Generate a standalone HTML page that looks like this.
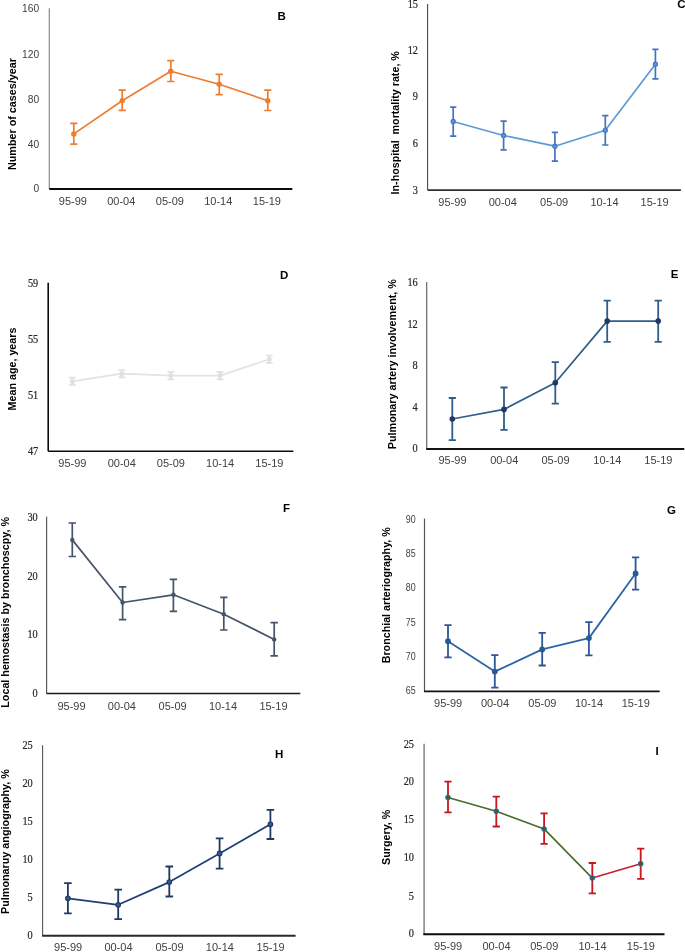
<!DOCTYPE html>
<html><head><meta charset="utf-8"><style>
html,body{margin:0;padding:0;background:#fff;}
body{width:685px;height:952px;overflow:hidden;}
svg{display:block;will-change:transform;}
.tk{font-family:"Liberation Sans", sans-serif;font-size:11.4px;fill:#404040;text-anchor:end;}
.ts{font-family:"Liberation Serif", serif;font-size:12px;fill:#262626;stroke:#262626;stroke-width:0.2px;text-anchor:end;}
.tn{font-family:"Liberation Sans", sans-serif;font-size:10.6px;fill:#404040;text-anchor:end;}
.xl{font-family:"Liberation Sans", sans-serif;font-size:11px;fill:#404040;text-anchor:middle;}
.lt{font-family:"Liberation Sans", sans-serif;font-size:11.5px;font-weight:bold;fill:#000;}
.yl{font-family:"Liberation Sans", sans-serif;font-size:11.6px;font-weight:bold;fill:#000;text-anchor:middle;}
</style></head><body>
<svg width="685" height="952" viewBox="0 0 685 952">
<rect width="685" height="952" fill="#fff"/>
<g id="pB"><line x1="49.3" y1="8.3" x2="49.3" y2="189" stroke="#8c8c8c" stroke-width="1.2"/><line x1="49.3" y1="189" x2="292.3" y2="189" stroke="#0a0a0a" stroke-width="1.9"/><text transform="translate(39.2 12) scale(0.9 1)" class="tk">160</text><text transform="translate(39.2 57.5) scale(0.9 1)" class="tk">120</text><text transform="translate(39.2 102.6) scale(0.9 1)" class="tk">80</text><text transform="translate(39.2 147.6) scale(0.9 1)" class="tk">40</text><text transform="translate(39.2 192.4) scale(0.9 1)" class="tk">0</text><text x="72.9" y="205.4" class="xl">95-99</text><text x="121.3" y="205.4" class="xl">00-04</text><text x="169.9" y="205.4" class="xl">05-09</text><text x="218.3" y="205.4" class="xl">10-14</text><text x="266.9" y="205.4" class="xl">15-19</text><polyline points="73.8,133.9 122.2,100.7 170.8,71.2 219.2,84.3 267.8,100.7" fill="none" stroke="#ED7D31" stroke-width="1.7" stroke-linejoin="round"/><path d="M73.8 123.4V144.2M70.2 123.4H77.4M70.2 144.2H77.4M122.2 90.2V110.3M118.6 90.2H125.8M118.6 110.3H125.8M170.8 60.7V81.5M167.2 60.7H174.4M167.2 81.5H174.4M219.2 74.4V94.6M215.6 74.4H222.8M215.6 94.6H222.8M267.8 90.2V110.5M264.2 90.2H271.4M264.2 110.5H271.4" fill="none" stroke="#ED7D31" stroke-width="1.7"/><circle cx="73.8" cy="133.9" r="2.7" fill="#ED7D31"/><circle cx="122.2" cy="100.7" r="2.7" fill="#ED7D31"/><circle cx="170.8" cy="71.2" r="2.7" fill="#ED7D31"/><circle cx="219.2" cy="84.3" r="2.7" fill="#ED7D31"/><circle cx="267.8" cy="100.7" r="2.7" fill="#ED7D31"/><text x="277.4" y="20.4" class="lt">B</text><text transform="translate(15.8 114) rotate(-90)" class="yl" textLength="112" lengthAdjust="spacingAndGlyphs" xml:space="preserve">Number of cases/year</text></g>
<g id="pC"><line x1="427.6" y1="4" x2="427.6" y2="190.1" stroke="#4a4a4a" stroke-width="1.1"/><line x1="427.6" y1="190.1" x2="680.9" y2="190.1" stroke="#303030" stroke-width="1.8"/><text transform="translate(418 7.9) scale(0.86 1)" class="ts">15</text><text transform="translate(418 53.9) scale(0.86 1)" class="ts">12</text><text transform="translate(418 100.2) scale(0.86 1)" class="ts">9</text><text transform="translate(418 147.1) scale(0.86 1)" class="ts">6</text><text transform="translate(418 193.5) scale(0.86 1)" class="ts">3</text><text x="452.4" y="206.1" class="xl">95-99</text><text x="502.8" y="206.1" class="xl">00-04</text><text x="554.1" y="206.1" class="xl">05-09</text><text x="604.5" y="206.1" class="xl">10-14</text><text x="654.6" y="206.1" class="xl">15-19</text><polyline points="453.2,121.5 503.6,135.5 554.9,146.2 605.3,130.3 655.4,64.2" fill="none" stroke="#5B9BD5" stroke-width="1.7" stroke-linejoin="round"/><path d="M453.2 107.2V136.1M450.1 107.2H456.3M450.1 136.1H456.3M503.6 121.2V149.9M500.5 121.2H506.7M500.5 149.9H506.7M554.9 132.3V161.2M551.8 132.3H558M551.8 161.2H558M605.3 115.7V145M602.2 115.7H608.4M602.2 145H608.4M655.4 49.3V78.8M652.3 49.3H658.5M652.3 78.8H658.5" fill="none" stroke="#4472C4" stroke-width="1.7"/><circle cx="453.2" cy="121.5" r="2.1" fill="#5B9BD5" stroke="#4472C4" stroke-width="1.1"/><circle cx="503.6" cy="135.5" r="2.1" fill="#5B9BD5" stroke="#4472C4" stroke-width="1.1"/><circle cx="554.9" cy="146.2" r="2.1" fill="#5B9BD5" stroke="#4472C4" stroke-width="1.1"/><circle cx="605.3" cy="130.3" r="2.1" fill="#5B9BD5" stroke="#4472C4" stroke-width="1.1"/><circle cx="655.4" cy="64.2" r="2.1" fill="#5B9BD5" stroke="#4472C4" stroke-width="1.1"/><text x="677.3" y="8.1" class="lt">C</text><text transform="translate(398.7 122.8) rotate(-90)" class="yl" textLength="143.3" lengthAdjust="spacingAndGlyphs" xml:space="preserve">In-hospital  mortality rate, %</text></g>
<g id="pD"><line x1="48.2" y1="282.7" x2="48.2" y2="451.2" stroke="#0d0d0d" stroke-width="1.6"/><line x1="48.2" y1="451.2" x2="293.4" y2="451.2" stroke="#0d0d0d" stroke-width="1.6"/><text transform="translate(38.2 286.7) scale(0.86 1)" class="ts">59</text><text transform="translate(38.2 342.7) scale(0.86 1)" class="ts">55</text><text transform="translate(38.2 398.8) scale(0.86 1)" class="ts">51</text><text transform="translate(38.2 454.8) scale(0.86 1)" class="ts">47</text><text x="72.4" y="467.1" class="xl">95-99</text><text x="121.8" y="467.1" class="xl">00-04</text><text x="170.9" y="467.1" class="xl">05-09</text><text x="220.1" y="467.1" class="xl">10-14</text><text x="269.4" y="467.1" class="xl">15-19</text><polyline points="72.3,381.4 121.7,373.7 170.8,375.6 220,375.6 269.3,359.2" fill="none" stroke="#E3E3E3" stroke-width="1.7" stroke-linejoin="round"/><path d="M72.3 377.7V384.9M69 377.7H75.6M69 384.9H75.6M121.7 370V377.4M118.4 370H125M118.4 377.4H125M170.8 371.9V379.3M167.5 371.9H174.1M167.5 379.3H174.1M220 371.9V379.3M216.7 371.9H223.3M216.7 379.3H223.3M269.3 355.5V362.9M266 355.5H272.6M266 362.9H272.6" fill="none" stroke="#E0E0E0" stroke-width="1.7"/><circle cx="72.3" cy="381.4" r="2.5" fill="#E0E0E0"/><circle cx="121.7" cy="373.7" r="2.5" fill="#E0E0E0"/><circle cx="170.8" cy="375.6" r="2.5" fill="#E0E0E0"/><circle cx="220" cy="375.6" r="2.5" fill="#E0E0E0"/><circle cx="269.3" cy="359.2" r="2.5" fill="#E0E0E0"/><text x="279.9" y="278.6" class="lt">D</text><text transform="translate(16.3 369) rotate(-90)" class="yl" textLength="82.8" lengthAdjust="spacingAndGlyphs" xml:space="preserve">Mean age, years</text></g>
<g id="pE"><line x1="426.7" y1="282" x2="426.7" y2="449" stroke="#666" stroke-width="1.2"/><line x1="426.2" y1="449" x2="684.3" y2="449" stroke="#141414" stroke-width="1.9"/><text transform="translate(417.7 286.1) scale(0.86 1)" class="ts">16</text><text transform="translate(417.7 327.8) scale(0.86 1)" class="ts">12</text><text transform="translate(417.7 369.3) scale(0.86 1)" class="ts">8</text><text transform="translate(417.7 410.8) scale(0.86 1)" class="ts">4</text><text transform="translate(417.7 452.1) scale(0.86 1)" class="ts">0</text><text x="452.5" y="463.7" class="xl">95-99</text><text x="504.2" y="463.7" class="xl">00-04</text><text x="555.5" y="463.7" class="xl">05-09</text><text x="607.4" y="463.7" class="xl">10-14</text><text x="658.4" y="463.7" class="xl">15-19</text><polyline points="452.3,419 504,409.4 555.3,382.8 607.2,321.1 658.2,321.1" fill="none" stroke="#2F5D8C" stroke-width="1.7" stroke-linejoin="round"/><path d="M452.3 398V440.1M448.7 398H455.9M448.7 440.1H455.9M504 387.5V429.8M500.4 387.5H507.6M500.4 429.8H507.6M555.3 362.2V403.7M551.7 362.2H558.9M551.7 403.7H558.9M607.2 300.6V341.8M603.6 300.6H610.8M603.6 341.8H610.8M658.2 300.6V341.8M654.6 300.6H661.8M654.6 341.8H661.8" fill="none" stroke="#2F5D8C" stroke-width="1.8"/><circle cx="452.3" cy="419" r="2.8" fill="#1F3864"/><circle cx="504" cy="409.4" r="2.8" fill="#1F3864"/><circle cx="555.3" cy="382.8" r="2.8" fill="#1F3864"/><circle cx="607.2" cy="321.1" r="2.8" fill="#1F3864"/><circle cx="658.2" cy="321.1" r="2.8" fill="#1F3864"/><text x="670.7" y="278.2" class="lt">E</text><text transform="translate(396.3 364.15) rotate(-90)" class="yl" textLength="170.1" lengthAdjust="spacingAndGlyphs" xml:space="preserve">Pulmonary artery involvement, %</text></g>
<g id="pF"><line x1="46.6" y1="516.8" x2="46.6" y2="693.5" stroke="#5a5a5a" stroke-width="1.2"/><line x1="46.4" y1="693.5" x2="300.3" y2="693.5" stroke="#1a1a1a" stroke-width="1.6"/><text transform="translate(37.7 520.8) scale(0.86 1)" class="ts">30</text><text transform="translate(37.7 579.7) scale(0.86 1)" class="ts">20</text><text transform="translate(37.7 637.7) scale(0.86 1)" class="ts">10</text><text transform="translate(37.7 696.7) scale(0.86 1)" class="ts">0</text><text x="71.55" y="709.6" class="xl">95-99</text><text x="121.85" y="709.6" class="xl">00-04</text><text x="172.65" y="709.6" class="xl">05-09</text><text x="223.05" y="709.6" class="xl">10-14</text><text x="273.45" y="709.6" class="xl">15-19</text><polyline points="72.3,539.9 122.6,602.5 173.4,594.8 223.8,614.2 274.2,639.4" fill="none" stroke="#44546A" stroke-width="1.7" stroke-linejoin="round"/><path d="M72.3 523V556.5M68.6 523H76M68.6 556.5H76M122.6 586.9V619.7M118.9 586.9H126.3M118.9 619.7H126.3M173.4 579.3V611.4M169.7 579.3H177.1M169.7 611.4H177.1M223.8 597.4V630M220.1 597.4H227.5M220.1 630H227.5M274.2 622.6V655.8M270.5 622.6H277.9M270.5 655.8H277.9" fill="none" stroke="#44546A" stroke-width="1.7"/><circle cx="72.3" cy="539.9" r="2.2" fill="#44546A"/><circle cx="122.6" cy="602.5" r="2.2" fill="#44546A"/><circle cx="173.4" cy="594.8" r="2.2" fill="#44546A"/><circle cx="223.8" cy="614.2" r="2.2" fill="#44546A"/><circle cx="274.2" cy="639.4" r="2.2" fill="#44546A"/><text x="283" y="512" class="lt">F</text><text transform="translate(9 612.35) rotate(-90)" class="yl" textLength="190.7" lengthAdjust="spacingAndGlyphs" xml:space="preserve">Local hemostasis by bronchoscpy, %</text></g>
<g id="pG"><line x1="424.5" y1="518.6" x2="424.5" y2="691.4" stroke="#555" stroke-width="1.2"/><line x1="424" y1="691.4" x2="659.7" y2="691.4" stroke="#141414" stroke-width="1.8"/><text transform="translate(415.7 522.8) scale(0.84 1)" class="tn">90</text><text transform="translate(415.7 556.8) scale(0.84 1)" class="tn">85</text><text transform="translate(415.7 591.4) scale(0.84 1)" class="tn">80</text><text transform="translate(415.7 625.8) scale(0.84 1)" class="tn">75</text><text transform="translate(415.7 660.1) scale(0.84 1)" class="tn">70</text><text transform="translate(415.7 694.3) scale(0.84 1)" class="tn">65</text><text x="448.15" y="706.7" class="xl">95-99</text><text x="494.95" y="706.7" class="xl">00-04</text><text x="542.35" y="706.7" class="xl">05-09</text><text x="589.05" y="706.7" class="xl">10-14</text><text x="635.75" y="706.7" class="xl">15-19</text><polyline points="448,641.2 494.8,671.6 542.2,649.4 588.9,638.1 635.6,573.5" fill="none" stroke="#2E65A6" stroke-width="1.8" stroke-linejoin="round"/><path d="M448 625.2V657.4M444.4 625.2H451.6M444.4 657.4H451.6M494.8 655.2V687.6M491.2 655.2H498.4M491.2 687.6H498.4M542.2 632.8V665.5M538.6 632.8H545.8M538.6 665.5H545.8M588.9 622.2V655.4M585.3 622.2H592.5M585.3 655.4H592.5M635.6 557.3V589.6M632 557.3H639.2M632 589.6H639.2" fill="none" stroke="#2E5597" stroke-width="1.8"/><circle cx="448" cy="641.2" r="2.9" fill="#2A5A94"/><circle cx="494.8" cy="671.6" r="2.9" fill="#2A5A94"/><circle cx="542.2" cy="649.4" r="2.9" fill="#2A5A94"/><circle cx="588.9" cy="638.1" r="2.9" fill="#2A5A94"/><circle cx="635.6" cy="573.5" r="2.9" fill="#2A5A94"/><text x="666.9" y="513.7" class="lt">G</text><text transform="translate(390.3 595.25) rotate(-90)" class="yl" textLength="136.1" lengthAdjust="spacingAndGlyphs" xml:space="preserve">Bronchial arteriography, %</text></g>
<g id="pH"><line x1="42.6" y1="745.3" x2="42.6" y2="935.8" stroke="#555" stroke-width="1.1"/><line x1="42.1" y1="935.8" x2="295.6" y2="935.8" stroke="#2a2a2a" stroke-width="1.9"/><text transform="translate(32.7 749.3) scale(0.86 1)" class="ts">25</text><text transform="translate(32.7 786.8) scale(0.86 1)" class="ts">20</text><text transform="translate(32.7 824.7) scale(0.86 1)" class="ts">15</text><text transform="translate(32.7 862.8) scale(0.86 1)" class="ts">10</text><text transform="translate(32.7 901.2) scale(0.86 1)" class="ts">5</text><text transform="translate(32.7 939.2) scale(0.86 1)" class="ts">0</text><text x="68.15" y="951.4" class="xl">95-99</text><text x="118.45" y="951.4" class="xl">00-04</text><text x="169.55" y="951.4" class="xl">05-09</text><text x="219.85" y="951.4" class="xl">10-14</text><text x="270.65" y="951.4" class="xl">15-19</text><polyline points="67.9,898.3 118.2,904.8 169.3,882.1 219.6,853.4 270.4,824.3" fill="none" stroke="#1F3D7A" stroke-width="1.7" stroke-linejoin="round"/><path d="M67.9 883.2V913.4M64.1 883.2H71.7M64.1 913.4H71.7M118.2 889.7V919.1M114.4 889.7H122M114.4 919.1H122M169.3 866.5V896.5M165.5 866.5H173.1M165.5 896.5H173.1M219.6 838.4V868.7M215.8 838.4H223.4M215.8 868.7H223.4M270.4 809.9V839M266.6 809.9H274.2M266.6 839H274.2" fill="none" stroke="#1F3864" stroke-width="1.8"/><circle cx="67.9" cy="898.3" r="2.3" fill="#2E5E90" stroke="#1F3864" stroke-width="1.1"/><circle cx="118.2" cy="904.8" r="2.3" fill="#2E5E90" stroke="#1F3864" stroke-width="1.1"/><circle cx="169.3" cy="882.1" r="2.3" fill="#2E5E90" stroke="#1F3864" stroke-width="1.1"/><circle cx="219.6" cy="853.4" r="2.3" fill="#2E5E90" stroke="#1F3864" stroke-width="1.1"/><circle cx="270.4" cy="824.3" r="2.3" fill="#2E5E90" stroke="#1F3864" stroke-width="1.1"/><text x="275.1" y="758" class="lt">H</text><text transform="translate(9 841.55) rotate(-90)" class="yl" textLength="144.9" lengthAdjust="spacingAndGlyphs" xml:space="preserve">Pulmonaruy angiography, %</text></g>
<g id="pI"><line x1="424.1" y1="743.8" x2="424.1" y2="934.3" stroke="#8a8a8a" stroke-width="1.6"/><line x1="423.3" y1="934.2" x2="664.5" y2="934.2" stroke="#0a0a0a" stroke-width="1.9"/><text transform="translate(414 747.7) scale(0.86 1)" class="ts">25</text><text transform="translate(414 785.2) scale(0.86 1)" class="ts">20</text><text transform="translate(414 823) scale(0.86 1)" class="ts">15</text><text transform="translate(414 861.3) scale(0.86 1)" class="ts">10</text><text transform="translate(414 899.6) scale(0.86 1)" class="ts">5</text><text transform="translate(414 937) scale(0.86 1)" class="ts">0</text><text x="448.15" y="949.8" class="xl">95-99</text><text x="496.45" y="949.8" class="xl">00-04</text><text x="544.25" y="949.8" class="xl">05-09</text><text x="592.45" y="949.8" class="xl">10-14</text><text x="640.85" y="949.8" class="xl">15-19</text><line x1="448" y1="797.4" x2="496.3" y2="811.2" stroke="#4A6B2A" stroke-width="1.6" stroke-linecap="round"/><line x1="496.3" y1="811.2" x2="544.1" y2="828.9" stroke="#4A6B2A" stroke-width="1.6" stroke-linecap="round"/><line x1="544.1" y1="828.9" x2="592.3" y2="878.1" stroke="#4A6B2A" stroke-width="1.6" stroke-linecap="round"/><line x1="592.3" y1="878.1" x2="640.7" y2="863.7" stroke="#C8202A" stroke-width="1.6" stroke-linecap="round"/><path d="M448 781.6V812.3M444.4 781.6H451.6M444.4 812.3H451.6M496.3 796.7V826.5M492.7 796.7H499.9M492.7 826.5H499.9M544.1 813.3V843.9M540.5 813.3H547.7M540.5 843.9H547.7M592.3 863V893.3M588.7 863H595.9M588.7 893.3H595.9M640.7 848.7V878.8M637.1 848.7H644.3M637.1 878.8H644.3" fill="none" stroke="#C8161E" stroke-width="1.8"/><circle cx="448" cy="797.4" r="2.2" fill="#3B5E2B" stroke="#2F6A9A" stroke-width="1.1"/><circle cx="496.3" cy="811.2" r="2.2" fill="#3B5E2B" stroke="#2F6A9A" stroke-width="1.1"/><circle cx="544.1" cy="828.9" r="2.2" fill="#3B5E2B" stroke="#2F6A9A" stroke-width="1.1"/><circle cx="592.3" cy="878.1" r="2.2" fill="#3B5E2B" stroke="#2F6A9A" stroke-width="1.1"/><circle cx="640.7" cy="863.7" r="2.2" fill="#3B5E2B" stroke="#2F6A9A" stroke-width="1.1"/><text x="655.5" y="754.7" class="lt">I</text><text transform="translate(390.4 837.3) rotate(-90)" class="yl" textLength="55.4" lengthAdjust="spacingAndGlyphs" xml:space="preserve">Surgery, %</text></g>
</svg>
</body></html>
